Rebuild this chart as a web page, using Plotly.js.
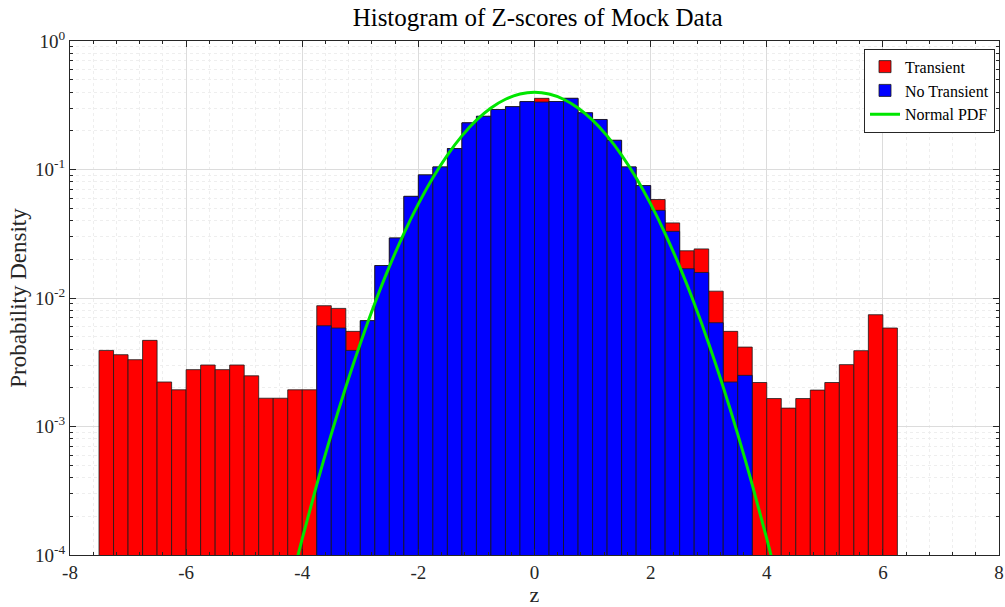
<!DOCTYPE html>
<html>
<head>
<meta charset="utf-8">
<script src="https://cdn.plot.ly/plotly-3.0.1.min.js"></script>
<style>html,body{margin:0;padding:0;background:#fff;}#chart{width:1005px;height:607px;}</style>
</head>
<body>
<div id="chart"></div>
<script>
// Bin centres (bin width 0.25)
const binCenters = [
  -7.375,-7.125,-6.875,-6.625,-6.375,-6.125,-5.875,-5.625,-5.375,-5.125,
  -4.875,-4.625,-4.375,-4.125,-3.875,
  -3.625,-3.375,-3.125,-2.875,-2.625,-2.375,-2.125,-1.875,-1.625,-1.375,
  -1.125,-0.875,-0.625,-0.375,-0.125,0.125,0.375,0.625,0.875,1.125,
  1.375,1.625,1.875,2.125,2.375,2.625,2.875,3.125,3.375,3.625,
  3.875,4.125,4.375,4.625,4.875,5.125,5.375,5.625,5.875,6.125
];
// "Transient" histogram (total) probability density
const transientDensity = [
  0.00391,0.00362,0.00331,0.00468,0.00222,0.00193,0.00277,0.00301,0.00277,0.00301,
  0.00248,0.00166,0.00166,0.00193,0.00193,
  0.00871,0.0083,0.0055,0.00666,0.0179,0.0293,0.0618,0.0908,0.1047,0.1456,
  0.2307,0.2594,0.293,0.3083,0.3377,0.358,0.338,0.358,0.276,0.245,
  0.1687,0.1047,0.075,0.0584,0.0384,0.0233,0.0241,0.0113,0.0055,0.00415,
  0.0022,0.00165,0.00139,0.00165,0.00192,0.0022,0.00303,0.00389,0.00741,0.00584
];
// "No Transient" histogram probability density
const noTransientDensity = [
  null,null,null,null,null,null,null,null,null,null,
  null,null,null,null,null,
  0.00608,0.00584,0.00391,0.00666,0.0179,0.0293,0.0618,0.0908,0.1047,0.1456,
  0.2307,0.2594,0.293,0.3083,0.3377,0.335,0.338,0.358,0.276,0.245,
  0.1687,0.1047,0.075,0.0481,0.033,0.0169,0.0158,0.00642,0.00222,0.0025,
  null,null,null,null,null,null,null,null,null,null
];
// Normal PDF curve samples
const pdfZ = [-4.25,-4.0,-3.75,-3.5,-3.25,-3.0,-2.75,-2.5,-2.25,-2.0,-1.75,-1.5,-1.25,-1.0,-0.75,-0.5,-0.25,0,
  0.25,0.5,0.75,1.0,1.25,1.5,1.75,2.0,2.25,2.5,2.75,3.0,3.25,3.5,3.75,4.0,4.25];
const pdfY = [0.0000478,0.000134,0.000353,0.000873,0.002029,0.004432,0.009094,0.017528,0.031740,0.053991,
  0.086277,0.129518,0.182649,0.241971,0.301137,0.352065,0.386668,0.398942,
  0.386668,0.352065,0.301137,0.241971,0.182649,0.129518,0.086277,0.053991,0.031740,0.017528,
  0.009094,0.004432,0.002029,0.000873,0.000353,0.000134,0.0000478];
// Axis tick labels
const yTickVals = [1e-4, 1e-3, 1e-2, 1e-1, 1];
const yTickText = ['10<sup>-4</sup>','10<sup>-3</sup>','10<sup>-2</sup>','10<sup>-1</sup>','10<sup>0</sup>'];
const xTickVals = [-8,-6,-4,-2,0,2,4,6,8];
const xTickText = ['-8','-6','-4','-2','0','2','4','6','8'];

const serif = 'Liberation Serif, Times New Roman, serif';
const edge = {color: '#1a1a1a', width: 0.8};

const traces = [
  {type:'bar', name:'Transient', x: binCenters, y: transientDensity, width: 0.25,
   marker:{color:'#ff0000', line: edge}},
  {type:'bar', name:'No Transient', x: binCenters, y: noTransientDensity, width: 0.25,
   marker:{color:'#0000ff', line: edge}},
  {type:'scatter', mode:'lines', name:'Normal PDF', x: pdfZ, y: pdfY,
   line:{color:'#00e600', width:3, shape:'spline'}}
];

const layout = {
  width: 1005, height: 607,
  margin: {l:70, r:6, t:41, b:52},
  paper_bgcolor:'#fff', plot_bgcolor:'#fff',
  barmode:'overlay', bargap:0,
  showlegend:true,
  font:{family: serif, size:19, color:'#262626'},
  title:{text:'Histogram of Z-scores of Mock Data', font:{family: serif, size:25, color:'#000'},
         x:0.535, xanchor:'center', y:0.972, yanchor:'middle'},
  xaxis:{
    range:[-8,8], tickvals:xTickVals, ticktext:xTickText,
    ticks:'inside', ticklen:6, tickcolor:'#262626', mirror:'allticks',
    showline:true, linecolor:'#262626', linewidth:1,
    showgrid:true, gridcolor:'#dcdcdc', gridwidth:1, zeroline:false,
    minor:{dtick:0.4, tick0:-8, showgrid:true, gridcolor:'#eeeeee', griddash:'dot', ticks:'inside', ticklen:3, tickcolor:'#262626'},
    title:{text:'z', font:{family: serif, size:22, color:'#262626'}, standoff:2},
    tickfont:{family: serif, size:19, color:'#262626'}
  },
  yaxis:{
    type:'log', range:[-4,0], tickvals:yTickVals, ticktext:yTickText,
    ticks:'inside', ticklen:6, tickcolor:'#262626', mirror:'allticks',
    showline:true, linecolor:'#262626', linewidth:1,
    showgrid:true, gridcolor:'#dcdcdc', gridwidth:1, zeroline:false,
    minor:{dtick:'D1', showgrid:true, gridcolor:'#eeeeee', griddash:'dot', ticks:'inside', ticklen:3, tickcolor:'#262626'},
    title:{text:'Probability Density', font:{family: serif, size:23, color:'#262626'}, standoff:2},
    tickfont:{family: serif, size:19, color:'#262626'}
  },
  legend:{x:0.9957, xanchor:'right', y:0.985, yanchor:'top',
    bgcolor:'#ffffff', bordercolor:'#262626', borderwidth:1,
    font:{family: serif, size:16, color:'#000'}, tracegroupgap:0, itemwidth:30}
};

Plotly.newPlot('chart', traces, layout, {displayModeBar:false, staticPlot:true});
</script>
</body>
</html>
